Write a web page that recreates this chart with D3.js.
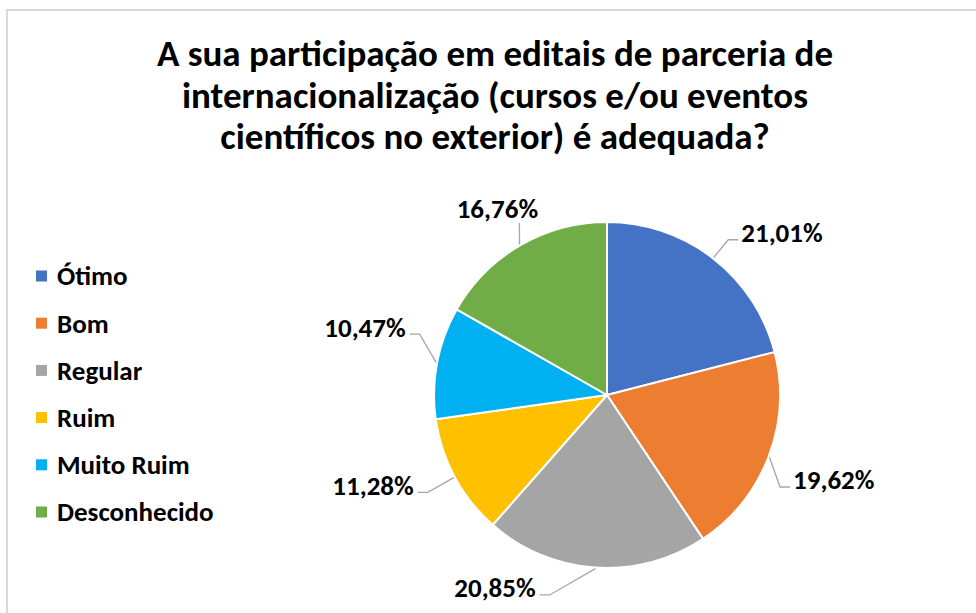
<!DOCTYPE html>
<html><head><meta charset="utf-8">
<script src="https://cdn.jsdelivr.net/npm/d3@7/dist/d3.min.js"></script>
<style>body{margin:0;background:#fff;} svg{display:block}</style>
</head><body><svg id="c" width="976" height="613"></svg>
<script>
const categories = ["Ótimo", "Bom", "Regular", "Ruim", "Muito Ruim", "Desconhecido"];
const values = [21.01, 19.62, 20.85, 11.28, 10.47, 16.76];
const colors = ["#4472C4", "#ED7D31", "#A5A5A5", "#FFC000", "#00B0F0", "#70AD47"];
const titleLines = [
  "A sua participação em editais de parceria de",
  "internacionalização (cursos e/ou eventos",
  "científicos no exterior) é adequada?"
];
// leader-line elbow placement (polar, around pie centre) for each label
const labelAngles = [38, 118, 196, 241.5, 288, 333];
const labelRadii = [197, 196, 208, 204, 197, 193];
const labelSides = ["right", "right", "left", "left", "left", "top"];

const FONT = "Carlito, Calibri, Lato, sans-serif";
const svg = d3.select("#c");

// frame
svg.append("rect").attr("x", 7).attr("y", 10).attr("width", 1100).attr("height", 800)
  .attr("fill", "#fff").attr("stroke", "#d9d9d9").attr("stroke-width", 2);

// title
const title = svg.append("text").attr("text-anchor", "middle")
  .attr("font-family", FONT).attr("font-weight", "bold").attr("font-size", 37).attr("fill", "#000");
titleLines.forEach((t, i) => {
  title.append("tspan").attr("x", 495).attr("y", 66 + i * 41.5).text(t);
});

// pie
const cx = 607, cy = 395, r = 173;
const g = svg.append("g").attr("transform", `translate(${cx},${cy})`);
const pie = d3.pie().sort(null).value(d => d);
const arcs = pie(values);
const arc = d3.arc().innerRadius(0).outerRadius(r);
g.selectAll("path.slice").data(arcs).join("path").attr("class", "slice")
  .attr("d", arc).attr("fill", (d, i) => colors[i])
  .attr("stroke", "#fff").attr("stroke-width", 2).attr("stroke-linejoin", "round");

const fmt = v => v.toFixed(2).replace(".", ",") + "%";
const polar = (a, rad) => [Math.sin(a) * rad, -Math.cos(a) * rad];

arcs.forEach((d, i) => {
  const mid = (d.startAngle + d.endAngle) / 2;
  const p0 = polar(mid, r + 1);
  const p1 = polar(labelAngles[i] * Math.PI / 180, labelRadii[i]);
  const side = labelSides[i];
  let pts = [p0, p1];
  let tx, ty, anchor;
  if (side === "right") {
    const p2 = [p1[0] + 10, p1[1]];
    pts.push(p2);
    tx = p2[0] + 3; ty = p1[1] - 7; anchor = "start";
  } else if (side === "left") {
    const p2 = [p1[0] - 10, p1[1]];
    pts.push(p2);
    tx = p2[0] - 4; ty = p1[1] - 7; anchor = "end";
  } else {
    tx = p1[0] - 22; ty = p1[1] - 15; anchor = "middle";
  }
  g.append("path").attr("d", d3.line()(pts)).attr("fill", "none")
    .attr("stroke", "#A6A6A6").attr("stroke-width", 1.3);
  g.append("text").attr("x", tx).attr("y", ty).attr("dy", "0.35em")
    .attr("text-anchor", anchor).attr("font-family", FONT).attr("font-weight", "bold")
    .attr("font-size", 27).attr("fill", "#000").text(fmt(values[i]));
});

// legend
const leg = svg.append("g");
const legY = d3.scalePoint().domain(categories).range([276, 512]);
categories.forEach((c, i) => {
  leg.append("rect").attr("x", 36).attr("y", legY(c) - 5.5).attr("width", 11).attr("height", 11)
    .attr("fill", colors[i]);
  leg.append("text").attr("x", 57).attr("y", legY(c)).attr("dy", "0.35em")
    .attr("font-family", FONT).attr("font-weight", "bold").attr("font-size", 27)
    .attr("fill", "#000").text(c);
});
</script></body></html>
